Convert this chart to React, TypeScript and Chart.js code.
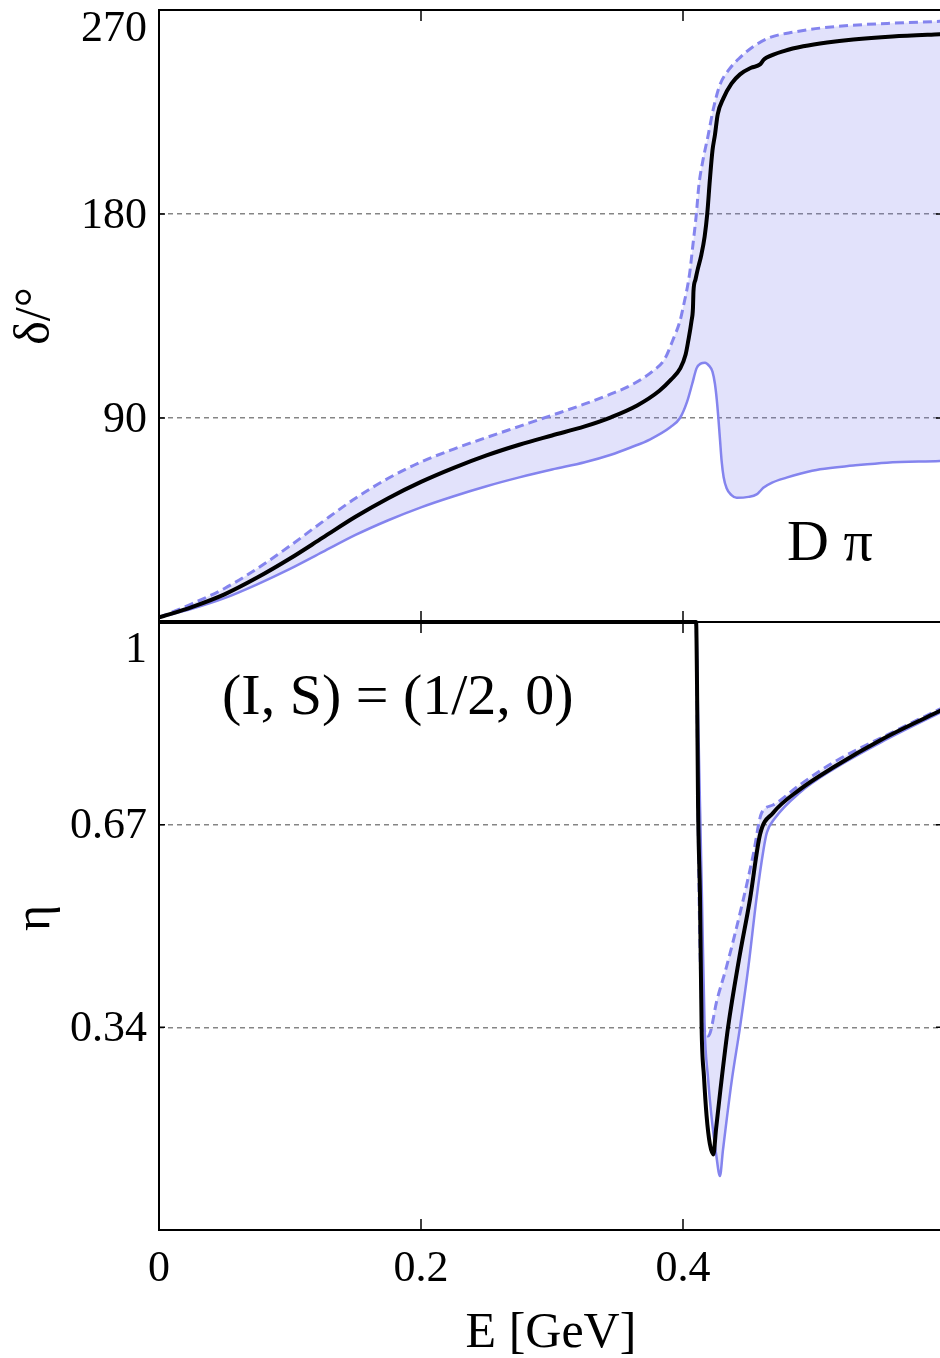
import React, { useEffect, useRef } from "react";
import { Chart, registerables } from "chart.js";

Chart.register(...registerables);

// ---------- axis ticks ----------
const energyTicks = [0, 0.2, 0.4, 0.6];
const energyTickLabels = ["0", "0.2", "0.4", ""];
const phaseTicks = [90, 180, 270];
const phaseTickLabels = ["90", "180", "270"];
const inelTicks = [0.34, 0.67, 1];
const inelTickLabels = ["0.34", "0.67", "1"];

// ---------- phase shift (top panel) ----------
const phaseCentralE = [0, 0.025, 0.05, 0.075, 0.1, 0.125, 0.15, 0.175, 0.2, 0.225, 0.25, 0.275, 0.3, 0.325, 0.345, 0.365, 0.382, 0.391, 0.398, 0.402, 0.404, 0.4065, 0.4076, 0.408, 0.4095, 0.411, 0.414, 0.4165, 0.4185, 0.4205, 0.4225, 0.4244, 0.4265, 0.4308, 0.437, 0.4435, 0.452, 0.4588, 0.4615, 0.4639, 0.4775, 0.4918, 0.51, 0.53, 0.56, 0.596, 0.6];
const phaseCentral = [2, 6.6, 12.2, 19.6, 28, 37.2, 46.4, 54.6, 61.8, 68, 73.5, 78.2, 82.3, 86.3, 90.3, 95.5, 102, 107, 112, 118, 124, 132.8, 138.5, 146, 151, 155, 162, 170, 180, 195, 208, 215, 224, 231, 237.5, 241.6, 244.5, 246, 248, 249, 252, 254, 255.7, 257, 258.3, 259.3, 259.4];

const phaseUpperE = [0, 0.025, 0.05, 0.075, 0.1, 0.125, 0.15, 0.175, 0.2, 0.225, 0.25, 0.275, 0.3, 0.325, 0.345, 0.362, 0.377, 0.386, 0.392, 0.3977, 0.4, 0.405, 0.4075, 0.4102, 0.412, 0.415, 0.4193, 0.423, 0.4282, 0.4355, 0.4435, 0.454, 0.466, 0.485, 0.5046, 0.53, 0.56, 0.596, 0.6];
const phaseUpper = [2, 8, 14.8, 23.6, 33.6, 44.3, 54.6, 63.4, 70.6, 76.3, 81.4, 86.3, 91.2, 96.2, 100.6, 105, 110.7, 116, 124, 132.8, 138.5, 153.5, 166, 180, 192, 203, 215, 226, 237, 244, 249, 254, 257.8, 260.3, 262, 263.3, 264.2, 265, 265.1];

const phaseLowerE = [0, 0.025, 0.05, 0.075, 0.1, 0.125, 0.15, 0.175, 0.2, 0.225, 0.25, 0.275, 0.3, 0.325, 0.345, 0.36, 0.375, 0.3905, 0.3977, 0.403, 0.407, 0.4104, 0.4135, 0.4168, 0.42, 0.4225, 0.4244, 0.4258, 0.427, 0.4283, 0.4295, 0.431, 0.4333, 0.437, 0.441, 0.45, 0.4562, 0.4585, 0.4613, 0.468, 0.479, 0.49, 0.5046, 0.53, 0.5555, 0.596, 0.6];
const phaseLower = [2, 5.8, 10.5, 16.6, 23.4, 30.9, 38.4, 44.9, 50.6, 55.5, 59.9, 63.8, 67.3, 70.5, 73.8, 77, 80.6, 86, 90, 97, 105, 112, 114, 114.4, 113, 110.5, 105, 98, 90, 80, 71, 64, 59, 56, 54.8, 55.2, 56.3, 57.5, 59.2, 61.5, 63.7, 65.5, 67.4, 69, 70.3, 71, 71.1];

// ---------- inelasticity (bottom panel) ----------
const inelCentralE = [0, 0.41, 0.4107, 0.4115, 0.413, 0.4142, 0.416, 0.418, 0.4205, 0.4232, 0.4252, 0.4286, 0.4344, 0.4427, 0.4511, 0.4588, 0.4687, 0.489, 0.5145, 0.5527, 0.596, 0.6];
const inelCentral = [1, 1, 0.9, 0.7, 0.548, 0.34, 0.26, 0.196, 0.15, 0.133, 0.174, 0.239, 0.34, 0.45, 0.548, 0.654, 0.689, 0.727, 0.763, 0.81, 0.855, 0.859];

const inelUpperE = [0, 0.41, 0.4108, 0.412, 0.4135, 0.416, 0.4193, 0.426, 0.4334, 0.446, 0.4535, 0.46, 0.4687, 0.4893, 0.5145, 0.5527, 0.596, 0.6];
const inelUpper = [1, 1, 0.85, 0.6, 0.42, 0.34, 0.326, 0.385, 0.44, 0.548, 0.62, 0.689, 0.702, 0.735, 0.771, 0.813, 0.858, 0.862];

const inelLowerE = [0, 0.41, 0.4115, 0.413, 0.4145, 0.4165, 0.419, 0.4215, 0.4255, 0.4282, 0.4305, 0.437, 0.4435, 0.45, 0.456, 0.4615, 0.464, 0.47, 0.489, 0.5145, 0.5527, 0.596, 0.6];
const inelLower = [1, 1, 0.85, 0.7, 0.548, 0.34, 0.26, 0.2, 0.13, 0.098, 0.14, 0.25, 0.34, 0.44, 0.548, 0.63, 0.657, 0.68, 0.722, 0.76, 0.806, 0.852, 0.856];

// ---------- styles ----------
const SERIF = '"Liberation Serif", "Times New Roman", serif';
const BLUE = "rgb(132,132,238)";
const FILL = "rgba(118,118,235,0.21)";
const GRID = "#858585";

const pts = (xs: number[], ys: number[]) => xs.map((x, i) => ({ x, y: ys[i] }));

function datasets(cE: number[], c: number[], uE: number[], u: number[], lE: number[], l: number[]) {
  return [
    {
      data: pts(cE, c),
      borderColor: "#000",
      borderWidth: 4,
      fill: false,
      clip: { left: 0, top: 4, right: 0, bottom: 0 },
    },
    {
      data: pts(uE, u),
      borderColor: BLUE,
      borderWidth: 3,
      borderDash: [9, 5],
      fill: 2,
      backgroundColor: FILL,
      clip: { left: 0, top: 3, right: 0, bottom: 0 },
    },
    {
      data: pts(lE, l),
      borderColor: BLUE,
      borderWidth: 2.5,
      fill: false,
      clip: { left: 0, top: 3, right: 0, bottom: 0 },
    },
  ];
}

function makeOptions(yMin: number, yMax: number, yTicks: number[], padding: any) {
  return {
    responsive: false,
    animation: false,
    layout: { padding },
    plugins: {
      legend: { display: false },
      tooltip: { enabled: false },
      filler: { drawTime: "beforeDatasetsDraw" },
    },
    elements: {
      point: { radius: 0 },
      line: { cubicInterpolationMode: "monotone", borderCapStyle: "butt", borderJoinStyle: "round" },
    },
    scales: {
      x: {
        type: "linear",
        min: 0,
        max: 0.6,
        ticks: { display: false },
        grid: { display: false, drawTicks: false },
        border: { display: false },
        afterFit: (s: any) => {
          s.height = 0;
        },
      },
      y: {
        type: "linear",
        min: yMin,
        max: yMax,
        ticks: { display: false },
        afterBuildTicks: (s: any) => {
          s.ticks = yTicks.map((v) => ({ value: v }));
        },
        grid: {
          color: (c: any) =>
            c.tick && c.tick.value > yMin + 1e-9 && c.tick.value < yMax - 1e-9 ? GRID : "rgba(0,0,0,0)",
          lineWidth: 1.5,
          drawTicks: false,
          tickLength: 0,
        },
        border: { display: false, dash: [5, 4] },
        afterFit: (s: any) => {
          s.width = 0;
        },
      },
    },
  };
}

function decorPlugin(cfg: {
  id: string;
  yTicks: number[];
  yLabels: string[];
  labelClampTop: number;
  showXLabels: boolean;
  yTitle: string;
  yTitlePos: [number, number];
  notes: { text: string; x: number; y: number }[];
}) {
  return {
    id: cfg.id,
    afterDraw(chart: any) {
      const { ctx, chartArea: a, scales } = chart;
      const xs = scales.x;
      const ys = scales.y;
      ctx.save();
      // frame
      ctx.strokeStyle = "#000";
      ctx.lineWidth = 2;
      ctx.setLineDash([]);
      ctx.beginPath();
      ctx.moveTo(a.right, a.top);
      ctx.lineTo(a.left, a.top);
      ctx.lineTo(a.left, a.bottom);
      ctx.lineTo(a.right, a.bottom);
      ctx.stroke();
      // inner ticks
      ctx.lineWidth = 1.5;
      ctx.beginPath();
      energyTicks.forEach((v) => {
        if (v === 0) return;
        const px = xs.getPixelForValue(v);
        ctx.moveTo(px, a.top);
        ctx.lineTo(px, a.top + 11);
        ctx.moveTo(px, a.bottom);
        ctx.lineTo(px, a.bottom - 11);
      });
      cfg.yTicks.forEach((v) => {
        const py = ys.getPixelForValue(v);
        if (py <= a.top + 1 || py >= a.bottom - 1) return;
        ctx.moveTo(a.left, py);
        ctx.lineTo(a.left + 6, py);
        ctx.moveTo(a.right, py);
        ctx.lineTo(a.right - 9, py);
      });
      ctx.stroke();
      // y tick labels
      ctx.fillStyle = "#000";
      ctx.font = `44px ${SERIF}`;
      ctx.textAlign = "right";
      ctx.textBaseline = "middle";
      cfg.yTicks.forEach((v, i) => {
        let py = ys.getPixelForValue(v);
        if (py < a.top + cfg.labelClampTop) py = a.top + cfg.labelClampTop;
        ctx.fillText(cfg.yLabels[i], a.left - 12, py + 2);
      });
      // x tick labels and title
      if (cfg.showXLabels) {
        ctx.textAlign = "center";
        energyTicks.forEach((v, i) => {
          const px = xs.getPixelForValue(v);
          ctx.fillText(energyTickLabels[i], px, a.bottom + 39);
        });
        ctx.font = `50px ${SERIF}`;
        ctx.fillText("E [GeV]", 551, a.bottom + 104);
      }
      // y title
      ctx.font = `50px ${SERIF}`;
      ctx.save();
      ctx.translate(cfg.yTitlePos[0], cfg.yTitlePos[1]);
      ctx.rotate(-Math.PI / 2);
      ctx.textAlign = "center";
      ctx.fillText(cfg.yTitle, 0, 0);
      ctx.restore();
      // annotations
      ctx.font = `58px ${SERIF}`;
      ctx.textAlign = "left";
      cfg.notes.forEach((n) => ctx.fillText(n.text, n.x, n.y));
      ctx.restore();
    },
  };
}

export default function App() {
  const topRef = useRef<HTMLCanvasElement | null>(null);
  const botRef = useRef<HTMLCanvasElement | null>(null);

  useEffect(() => {
    const top = new Chart(topRef.current as HTMLCanvasElement, {
      type: "line",
      data: { datasets: datasets(phaseCentralE, phaseCentral, phaseUpperE, phaseUpper, phaseLowerE, phaseLower) as any },
      options: makeOptions(0, 270, phaseTicks, { left: 159, top: 10, right: 15, bottom: 18 }) as any,
      plugins: [
        decorPlugin({
          id: "decorTop",
          yTicks: phaseTicks,
          yLabels: phaseTickLabels,
          labelClampTop: 17,
          showXLabels: false,
          yTitle: "δ/°",
          yTitlePos: [36, 316],
          notes: [{ text: "D π", x: 787, y: 545 }],
        }),
      ],
    });
    const bot = new Chart(botRef.current as HTMLCanvasElement, {
      type: "line",
      data: { datasets: datasets(inelCentralE, inelCentral, inelUpperE, inelUpper, inelLowerE, inelLower) as any },
      options: makeOptions(0.01, 1, inelTicks, { left: 159, top: 22, right: 15, bottom: 128 }) as any,
      plugins: [
        decorPlugin({
          id: "decorBot",
          yTicks: inelTicks,
          yLabels: inelTickLabels,
          labelClampTop: 26,
          showXLabels: true,
          yTitle: "η",
          yTitlePos: [36, 318],
          notes: [{ text: "(I, S) = (1/2, 0)", x: 222, y: 99 }],
        }),
      ],
    });
    return () => {
      top.destroy();
      bot.destroy();
    };
  }, []);

  return (
    <div
      style={{
        position: "absolute",
        left: 0,
        top: 0,
        width: 940,
        height: 1358,
        overflow: "hidden",
        background: "#fff",
      }}
    >
      <canvas
        ref={topRef}
        width={960}
        height={640}
        style={{ position: "absolute", left: 0, top: 0, width: 960, height: 640 }}
      />
      <canvas
        ref={botRef}
        width={960}
        height={758}
        style={{ position: "absolute", left: 0, top: 600, width: 960, height: 758 }}
      />
    </div>
  );
}
